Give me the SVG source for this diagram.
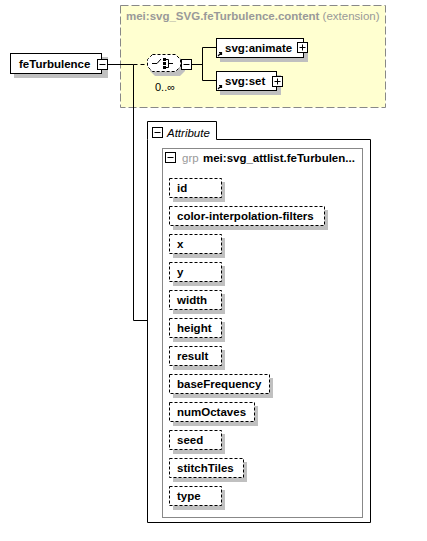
<svg xmlns="http://www.w3.org/2000/svg" width="427" height="541" viewBox="0 0 427 541">
<style>
text{font-family:"Liberation Sans",Arial,sans-serif;}
.b{font-weight:bold;font-size:11.5px;fill:#000;}
.sh{fill:#c0c0c0;}
.box{fill:#fff;stroke:#000;stroke-width:1;}
.att{fill:#fff;stroke:#000;stroke-width:1;stroke-dasharray:3,2;}
.btn{fill:#fff;stroke:#000;stroke-width:1;}
.ln{stroke:#000;stroke-width:1;fill:none;}
</style>
<defs>
<g id="minus"><rect class="btn" x="0.5" y="0.5" width="10" height="10"/><path class="ln" d="M2.5 5.5H8.5"/></g>
<g id="plus"><rect class="btn" x="0.5" y="0.5" width="10" height="10"/><path class="ln" d="M2.5 5.5H8.5M5.5 2.5V8.5"/></g>
</defs>

<g id="extension">
<rect x="120.5" y="5.5" width="265" height="102" fill="#ffffd0" stroke="#888" stroke-dasharray="8,3"/>
<text x="126" y="20" font-size="11.5" fill="#999"><tspan font-weight="bold">mei:svg_SVG.feTurbulence.content</tspan> (extension)</text>
</g>

<g id="connectors">
<path class="ln" d="M108 64.5H133.5V320.5H148"/>
<path class="ln" d="M133.5 64.5H147" stroke-dasharray="4,3"/>
<path class="ln" d="M192 64.5H202.5M202.5 47.5V80.5M202.5 47.5H216M202.5 80.5H216"/>
</g>

<g id="feTurbulence">
<rect class="sh" x="14" y="57" width="94" height="21"/>
<rect class="box" x="10.5" y="53.5" width="91" height="20"/>
<text class="b" x="19" y="68">feTurbulence</text>
<use href="#minus" x="97" y="59"/>
</g>

<g id="sequence">
<path class="sh" d="M155 58H180L185 63V71L180 76H155L150 71V63Z"/>
<path d="M152.5 54.5H175.5L180.5 59.5V66.5L175.5 71.5H152.5L147.5 66.5V59.5Z" fill="#fff" stroke="#000" stroke-dasharray="3,2"/>
<path class="ln" d="M152 63.5H157L161 59"/>
<rect x="163" y="58" width="3" height="3" fill="#000"/>
<rect x="163" y="62" width="3" height="3" fill="#000"/>
<rect x="163" y="66" width="3" height="3" fill="#000"/>
<path class="ln" d="M166 59.5H168.5V67.5H166M168.5 63.5H173"/>
<use href="#minus" x="181" y="59"/>
<text x="155" y="91" font-size="11" fill="#000">0..∞</text>
</g>

<g id="svg-animate">
<rect class="sh" x="220" y="42" width="88" height="20"/>
<rect class="box" x="216.5" y="38.5" width="87" height="19"/>
<path d="M218 56L221.5 52.5M219 52.5H221.5V55" stroke="#000" stroke-width="1.2" fill="none"/>
<text class="b" x="225" y="52">svg:animate</text>
<use href="#plus" x="297" y="42"/>
</g>

<g id="svg-set">
<rect class="sh" x="220" y="75" width="61" height="20"/>
<rect class="box" x="216.5" y="71.5" width="60" height="19"/>
<path d="M218 89L221.5 85.5M219 85.5H221.5V88" stroke="#000" stroke-width="1.2" fill="none"/>
<text class="b" x="225" y="85">svg:set</text>
<use href="#plus" x="272" y="76"/>
</g>

<g id="attributes">
<path class="ln" d="M147.5 139.5V522.5H370.5V139.5H216.5V121.5H147.5V139.5"/>
<use href="#minus" x="152" y="127"/>
<text x="167" y="137" font-size="11.5" font-style="italic">Attribute</text>
<rect x="162.5" y="148.5" width="200" height="369" fill="none" stroke="#888"/>
<use href="#minus" x="165" y="152"/>
<text x="182" y="162" font-size="11.5" fill="#999">grp</text>
<text class="b" x="203" y="162">mei:svg_attlist.feTurbulen...</text>
</g>

<g id="attr-id"><rect class="sh" x="173" y="182" width="52" height="20"/><rect class="att" x="169.5" y="178.5" width="52" height="19"/><text class="b" x="177" y="192">id</text></g>
<g id="attr-cif"><rect class="sh" x="173" y="210" width="155" height="20"/><rect class="att" x="169.5" y="206.5" width="155" height="19"/><text class="b" x="177" y="220">color-interpolation-filters</text></g>
<g id="attr-x"><rect class="sh" x="173" y="238" width="52" height="20"/><rect class="att" x="169.5" y="234.5" width="52" height="19"/><text class="b" x="177" y="248">x</text></g>
<g id="attr-y"><rect class="sh" x="173" y="266" width="52" height="20"/><rect class="att" x="169.5" y="262.5" width="52" height="19"/><text class="b" x="177" y="276">y</text></g>
<g id="attr-width"><rect class="sh" x="173" y="294" width="52" height="20"/><rect class="att" x="169.5" y="290.5" width="52" height="19"/><text class="b" x="177" y="304">width</text></g>
<g id="attr-height"><rect class="sh" x="173" y="322" width="52" height="20"/><rect class="att" x="169.5" y="318.5" width="52" height="19"/><text class="b" x="177" y="332">height</text></g>
<g id="attr-result"><rect class="sh" x="173" y="350" width="52" height="20"/><rect class="att" x="169.5" y="346.5" width="52" height="19"/><text class="b" x="177" y="360">result</text></g>
<g id="attr-baseFrequency"><rect class="sh" x="173" y="378" width="100" height="20"/><rect class="att" x="169.5" y="374.5" width="100" height="19"/><text class="b" x="177" y="388">baseFrequency</text></g>
<g id="attr-numOctaves"><rect class="sh" x="173" y="406" width="85" height="20"/><rect class="att" x="169.5" y="402.5" width="85" height="19"/><text class="b" x="177" y="416">numOctaves</text></g>
<g id="attr-seed"><rect class="sh" x="173" y="434" width="52" height="20"/><rect class="att" x="169.5" y="430.5" width="52" height="19"/><text class="b" x="177" y="444">seed</text></g>
<g id="attr-stitchTiles"><rect class="sh" x="173" y="462" width="74" height="20"/><rect class="att" x="169.5" y="458.5" width="74" height="19"/><text class="b" x="177" y="472">stitchTiles</text></g>
<g id="attr-type"><rect class="sh" x="173" y="490" width="52" height="20"/><rect class="att" x="169.5" y="486.5" width="52" height="19"/><text class="b" x="177" y="500">type</text></g>
</svg>
